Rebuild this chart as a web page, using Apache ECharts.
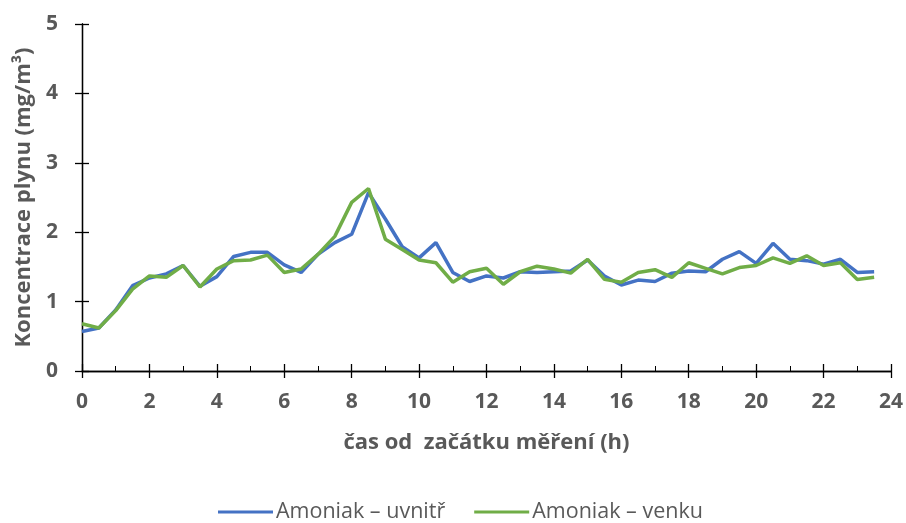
<!DOCTYPE html>
<html>
<head>
<meta charset="utf-8">
<script src="https://cdn.jsdelivr.net/npm/echarts@6/dist/echarts.min.js"></script>
<style>
  html, body { margin: 0; padding: 0; background: #fff; }
  #chart { width: 906px; height: 523px; }
</style>
</head>
<body>
<div id="chart"></div>
<script>
// hours since start of measurement, every half hour
const hours = [0, 0.5, 1, 1.5, 2, 2.5, 3, 3.5, 4, 4.5, 5, 5.5, 6, 6.5, 7, 7.5,
  8, 8.5, 9, 9.5, 10, 10.5, 11, 11.5, 12, 12.5, 13, 13.5, 14, 14.5, 15, 15.5,
  16, 16.5, 17, 17.5, 18, 18.5, 19, 19.5, 20, 20.5, 21, 21.5, 22, 22.5, 23, 23.5]

const inside = [0.57, 0.62, 0.88, 1.23, 1.34, 1.40, 1.52, 1.22, 1.36, 1.65, 1.71, 1.71, 1.53, 1.42, 1.68, 1.85,
  1.97, 2.57, 2.19, 1.79, 1.63, 1.85, 1.42, 1.29, 1.37, 1.34, 1.43, 1.42, 1.43, 1.44, 1.60, 1.37,
  1.24, 1.31, 1.29, 1.41, 1.44, 1.43, 1.61, 1.72, 1.55, 1.84, 1.61, 1.59, 1.54, 1.61, 1.42, 1.43]

const outside = [0.68, 0.62, 0.87, 1.18, 1.37, 1.35, 1.52, 1.21, 1.47, 1.59, 1.60, 1.67, 1.42, 1.47, 1.68, 1.94,
  2.43, 2.63, 1.90, 1.75, 1.60, 1.56, 1.28, 1.43, 1.48, 1.25, 1.43, 1.51, 1.47, 1.41, 1.61, 1.32,
  1.28, 1.42, 1.46, 1.35, 1.56, 1.48, 1.40, 1.49, 1.52, 1.63, 1.55, 1.66, 1.52, 1.56, 1.32, 1.35]

const names = ['Amoniak – uvnitř', 'Amoniak – venku']
const colors = ['#4472C4', '#70AD47']

const FONT = '"Open Sans"'
const GREY = '#595959'

const pairs = (ys) => hours.map((h, i) => [h, ys[i]])

let chart = echarts.init(document.getElementById('chart'), null, { renderer: 'canvas' })

const axisCommon = {
  axisLine: { show: true, lineStyle: { color: '#000', width: 1.3 } },
  splitLine: { show: false }
}

let option = {
  backgroundColor: '#fff',
  animation: false,
  color: colors,
  grid: { left: 82, right: 15, top: 24, bottom: 152 },
  legend: {
    top: 496,
    left: 213,
    itemWidth: 55,
    itemHeight: 3,
    itemGap: 29,
    icon: 'rect',
    textStyle: { fontFamily: FONT, fontSize: 21.5, color: GREY, padding: [0, 0, 0, -2] },
    data: names
  },
  xAxis: [{
    ...axisCommon,
    type: 'value', min: 0, max: 24, interval: 2,
    name: 'čas od  začátku měření (h)',
    nameLocation: 'middle', nameGap: 61,
    nameTextStyle: { fontFamily: FONT, fontSize: 22, fontWeight: 'bold', color: GREY },
    axisTick: { show: true, length: 7, lineStyle: { color: '#000', width: 1.3 } },
    axisLabel: { margin: 21, fontFamily: FONT, fontSize: 21, fontWeight: 'bold', color: GREY }
  }, {
    ...axisCommon,
    type: 'value', min: 0, max: 24, interval: 2,
    axisTick: { show: true, inside: true, length: 7, lineStyle: { color: '#000', width: 1.3 } },
    minorTick: { show: true, splitNumber: 2, length: 5, lineStyle: { color: '#000', width: 1 } },
    axisLabel: { show: false },
    position: 'bottom'
  }],
  yAxis: [{
    ...axisCommon,
    type: 'value', min: 0, max: 5, interval: 1,
    name: 'Koncentrace plynu (mg/m³)',
    nameLocation: 'middle', nameGap: 43,
    nameTextStyle: { fontFamily: FONT, fontSize: 22, fontWeight: 'bold', color: GREY },
    axisTick: { show: true, length: 7, lineStyle: { color: '#000', width: 1.3 } },
    axisLabel: { margin: 24, fontFamily: FONT, fontSize: 21, fontWeight: 'bold', color: GREY }
  }, {
    ...axisCommon,
    type: 'value', min: 0, max: 5, interval: 1,
    position: 'left',
    axisTick: { show: true, inside: true, length: 7, lineStyle: { color: '#000', width: 1.3 } },
    axisLabel: { show: false }
  }],
  series: [
    {
      name: names[0], type: 'line', data: pairs(inside),
      showSymbol: false, lineStyle: { width: 3.5, color: colors[0] }, z: 2
    },
    {
      name: names[1], type: 'line', data: pairs(outside),
      showSymbol: false, lineStyle: { width: 3.5, color: colors[1] }, z: 3
    }
  ]
}

chart.setOption(option)
</script>
</body>
</html>
